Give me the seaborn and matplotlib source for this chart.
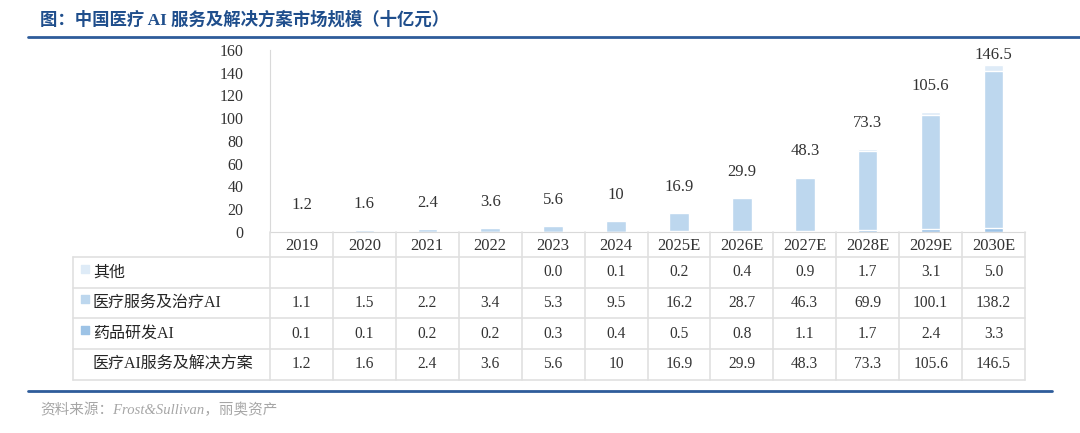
import numpy as np
import pandas as pd
import seaborn as sns
import matplotlib.pyplot as plt

# data
years = ['2019', '2020', '2021', '2022', '2023', '2024', '2025E', '2026E',
         '2027E', '2028E', '2029E', '2030E']
other = [None, None, None, None, 0.0, 0.1, 0.2, 0.4, 0.9, 1.7, 3.1, 5.0]
service = [1.1, 1.5, 2.2, 3.4, 5.3, 9.5, 16.2, 28.7, 46.3, 69.9, 100.1, 138.2]
drug = [0.1, 0.1, 0.2, 0.2, 0.3, 0.4, 0.5, 0.8, 1.1, 1.7, 2.4, 3.3]
total = [1.2, 1.6, 2.4, 3.6, 5.6, 10, 16.9, 29.9, 48.3, 73.3, 105.6, 146.5]
total_labels = ['1.2', '1.6', '2.4', '3.6', '5.6', '10', '16.9', '29.9',
                '48.3', '73.3', '105.6', '146.5']

series_names = ['其他', '医疗服务及治疗AI', '药品研发AI']
colors = ['#deebf7', '#bdd7ee', '#9dc3e6']

sns.set_style('white')
plt.rcParams['font.family'] = ['Liberation Serif', 'Noto Sans CJK SC']

df = pd.DataFrame({'year': years, 'other': other, 'service': service,
                   'drug': drug, 'total': total})
df['other'] = df['other'].fillna(0)
df['cum_drug'] = df['drug']
df['cum_service'] = df['drug'] + df['service']
df['cum_all'] = df['cum_service'] + df['other']

W, H = 1080, 433
fig = plt.figure(figsize=(W / 100, H / 100), dpi=100)

def px_rect(x0, y0, x1, y1):
    return [x0 / W, 1 - y1 / H, (x1 - x0) / W, (y1 - y0) / H]

# bars (drawn as overlapping cumulative totals)
ax = fig.add_axes(px_rect(270, 50, 1025, 232))
bw = 0.31
sns.barplot(data=df, x='year', y='cum_all', color=colors[0], width=bw,
            ax=ax, saturation=1)
sns.barplot(data=df, x='year', y='cum_service', color=colors[1], width=bw,
            ax=ax, saturation=1)
sns.barplot(data=df, x='year', y='cum_drug', color=colors[2], width=bw,
            ax=ax, saturation=1)
ax.set_xlim(-0.5, len(years) - 0.5)
ax.set_ylim(0, 160)
ax.set_yticks(range(0, 161, 20))
ax.set_xlabel('')
ax.set_ylabel('')
for s in ['top', 'right']:
    ax.spines[s].set_visible(False)
ax.spines['left'].set_color('#d9d9d9')
ax.spines['bottom'].set_color('#d9d9d9')
ax.tick_params(axis='y', direction='out', length=4, color='#d9d9d9',
               labelsize=11.5, labelcolor='#333333', pad=15)
ax.tick_params(axis='x', length=0, labelsize=12, labelcolor='#333333', pad=4)

off = 22.9
for i, (t, lab) in enumerate(zip(total, total_labels)):
    ax.text(i, min(t + off, 155.6), lab, ha='center', va='center',
            fontsize=12, color='#333333')

# table
tx0 = 73
colw = (1025 - 270) / len(years)
left_x = -0.5 - (270 - tx0) / colw
tax = fig.add_axes(px_rect(tx0, 232, 1025, 380))
tax.set_xlim(left_x, len(years) - 0.5)
tax.set_ylim(380, 232)
tax.axis('off')
row_edges = [257, 288, 318, 349, 380]
grid_c = '#e0e0e0'
for y in row_edges:
    tax.plot([left_x, len(years) - 0.5], [y, y], color=grid_c, lw=1.2,
             clip_on=False)
for k in range(len(years) + 1):
    tax.plot([k - 0.5, k - 0.5], [232, 380], color=grid_c, lw=1.2,
             clip_on=False)
tax.plot([left_x, left_x], [257, 380], color=grid_c, lw=1.2, clip_on=False)

rows = [other, service, drug, total_labels]
row_labels = series_names + ['医疗AI服务及解决方案']
sq_x = left_x + 12 / colw
txt_x = left_x + 20 / colw
for r, (vals, lab) in enumerate(zip(rows, row_labels)):
    yc = (row_edges[r] + row_edges[r + 1]) / 2
    if r < 3:
        tax.scatter([sq_x], [yc - 4], marker='s', s=30, color=colors[r],
                    clip_on=False)
    tax.text(txt_x, yc, lab, ha='left', va='center', fontsize=11.5,
             color='#262626')
    for i, v in enumerate(vals):
        if v is None:
            continue
        s = v if isinstance(v, str) else f'{v:.1f}'
        tax.text(i, yc, s, ha='center', va='center', fontsize=11.2,
                 color='#333333')

# title, rules, source
fig.text(40 / W, 1 - 20 / H, '图：中国医疗 AI 服务及解决方案市场规模（十亿元）',
         ha='left', va='center', fontsize=12.5, fontweight='bold',
         color='#1f4e8c')
fig.add_artist(plt.Line2D([28 / W, 1.0], [1 - 37 / H] * 2, color='#2e5c9a',
                          lw=2))
fig.add_artist(plt.Line2D([28 / W, 1052 / W], [1 - 391 / H] * 2,
                          color='#2e5c9a', lw=2))
fig.text(40 / W, 1 - 410 / H, '资料来源：Frost&Sullivan，丽奥资产',
         ha='left', va='center', fontsize=10.5, style='italic', color='#a6a6a6')

fig.savefig('out.png', dpi=100)
